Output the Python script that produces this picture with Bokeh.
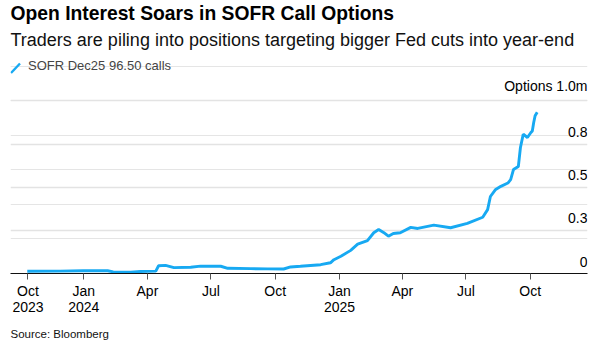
import pandas as pd
from bokeh.plotting import figure
from bokeh.models import (ColumnDataSource, Title, Legend, LegendItem, LabelSet,
                          FixedTicker, Range1d, Grid, Arrow)
from bokeh.core.properties import value
from bokeh.embed import file_html
from bokeh.resources import INLINE

# ---- data ----
dates = ["2023-10-12", "2023-11-28", "2023-12-31", "2024-02-04", "2024-02-12",
         "2024-03-08", "2024-03-22", "2024-04-13", "2024-04-17", "2024-04-27",
         "2024-05-09", "2024-06-02", "2024-06-16", "2024-07-15", "2024-07-25",
         "2024-08-27", "2024-09-20", "2024-10-13", "2024-10-23", "2024-11-06",
         "2024-12-05", "2024-12-19", "2024-12-24", "2025-01-03", "2025-01-17",
         "2025-01-27", "2025-02-10", "2025-02-19", "2025-02-26", "2025-03-05",
         "2025-03-12", "2025-03-19", "2025-03-29", "2025-04-13", "2025-04-23",
         "2025-05-16", "2025-06-09", "2025-07-03", "2025-07-25", "2025-08-01",
         "2025-08-05", "2025-08-12", "2025-08-20", "2025-08-30", "2025-09-03",
         "2025-09-07", "2025-09-14", "2025-09-17", "2025-09-21", "2025-09-27",
         "2025-10-02", "2025-10-04", "2025-10-06", "2025-10-08", "2025-10-11"]
values = [0.013, 0.014, 0.016, 0.016, 0.009,
          0.008, 0.012, 0.014, 0.045, 0.047,
          0.034, 0.036, 0.043, 0.042, 0.030,
          0.028, 0.027, 0.026, 0.038, 0.042,
          0.051, 0.062, 0.080, 0.100, 0.134,
          0.170, 0.190, 0.236, 0.255, 0.238,
          0.216, 0.232, 0.236, 0.267, 0.261,
          0.280, 0.265, 0.290, 0.326, 0.370,
          0.446, 0.485, 0.505, 0.524, 0.544,
          0.602, 0.620, 0.730, 0.807, 0.788,
          0.817, 0.826, 0.875, 0.914, 0.934]

x_tick_dates = ["2023-10-13", "2024-01-01", "2024-04-01", "2024-07-01", "2024-10-01",
                "2025-01-01", "2025-04-01", "2025-07-01", "2025-10-01"]
x_tick_labels = ["Oct\n2023", "Jan\n2024", "Apr", "Jul", "Oct",
                 "Jan\n2025", "Apr", "Jul", "Oct"]
y_ticks = [0, 0.25, 0.5, 0.75, 1.0]
y_tick_labels = ["0", "0.3", "0.5", "0.8", "Options 1.0m"]

title_text = "Open Interest Soars in SOFR Call Options"
subtitle_text = "Traders are piling into positions targeting bigger Fed cuts into year-end"
series_name = "SOFR Dec25 96.50 calls"
source_text = "Source: Bloomberg"

FONT = "Liberation Sans"
BLUE = "#17a9f2"

x = pd.to_datetime(dates)
src = ColumnDataSource(dict(date=x, value=values))

x_start = pd.Timestamp("2023-09-18")
x_end = pd.Timestamp("2025-12-22")

p = figure(width=613, height=351, x_axis_type="datetime",
           x_range=Range1d(x_start, x_end), y_range=Range1d(0, 1.2456),
           y_axis_location=None, title=None,
           output_backend="svg", toolbar_location=None,
           min_border_left=10, min_border_right=26,
           min_border_top=0, min_border_bottom=78)
p.outline_line_color = None
p.background_fill_color = "white"
p.border_fill_color = "white"
p.xgrid.visible = False

grid = Grid(dimension=1, ticker=FixedTicker(ticks=y_ticks[1:]),
            grid_line_color="#e3e3e3", grid_line_width=1.5)
p.add_layout(grid)

r = p.line(x="date", y="value", source=src, line_color=BLUE, line_width=2.9)

# legend entry (its own key glyph is drawn as a slanted stroke below)
key = p.scatter(x=[], y=[], marker="dash", size=0, line_alpha=0, fill_alpha=0)

# x axis
tick_ms = [float(pd.Timestamp(d).value // 10**6) for d in x_tick_dates]
ax = p.xaxis[0]
ax.ticker = FixedTicker(ticks=tick_ms)
ax.major_label_overrides = {t: l for t, l in zip(tick_ms, x_tick_labels)}
ax.axis_line_color = "#111111"
ax.axis_line_width = 1.2
ax.major_tick_line_color = "#555555"
ax.major_tick_in = 0
ax.major_tick_out = 6
ax.minor_tick_line_color = None
ax.major_label_text_font = FONT
ax.major_label_text_font_size = "14px"
ax.major_label_text_line_height = 1.0
ax.major_label_text_color = "#000000"
ax.major_label_standoff = 3

# y labels sitting on top of gridlines, right aligned
ysrc = ColumnDataSource(dict(x=[x_end] * len(y_ticks), y=y_ticks, text=y_tick_labels))
labels = LabelSet(x="x", y="y", text="text", source=ysrc, text_align="right",
                  text_baseline="bottom", y_offset=7, text_font=value(FONT),
                  text_font_size=value("14px"), text_color="#000000")
p.add_layout(labels)

# legend inside the frame, top-left
legend = Legend(items=[LegendItem(label=series_name, renderers=[key])],
                location="top_left", orientation="horizontal",
                label_text_font=FONT, label_text_font_size="13px",
                glyph_width=12, glyph_height=14, label_standoff=6,
                border_line_color=None, background_fill_alpha=0,
                padding=0, margin=0, spacing=0)
p.add_layout(legend)

# slanted legend key stroke
p.add_layout(Arrow(end=None, start=None, x_start=0.5, y_start=200.5, x_end=9.5, y_end=210,
                   start_units="screen", end_units="screen",
                   line_color=BLUE, line_width=2.4))

# spacer between subtitle and frame, then subtitle, then title (outward)
p.add_layout(Title(text=" ", text_font=FONT, text_font_size="3px",
                   standoff=0, offset=0), "above")
p.add_layout(Title(text=subtitle_text, text_font=FONT, text_font_size="18px",
                   text_font_style="normal", text_color="#111111", align="left",
                   offset=0, standoff=7), "above")
p.add_layout(Title(text=title_text, text_font=FONT, text_font_size="19.3px",
                   text_font_style="bold", text_color="#000000", align="left",
                   offset=0, standoff=1), "above")

p.add_layout(Title(text=source_text, text_font=FONT, text_font_size="11.5px",
                   text_font_style="normal", text_color="#111111", align="left",
                   offset=0, standoff=17), "below")

open("out.html", "w").write(file_html(p, INLINE))
